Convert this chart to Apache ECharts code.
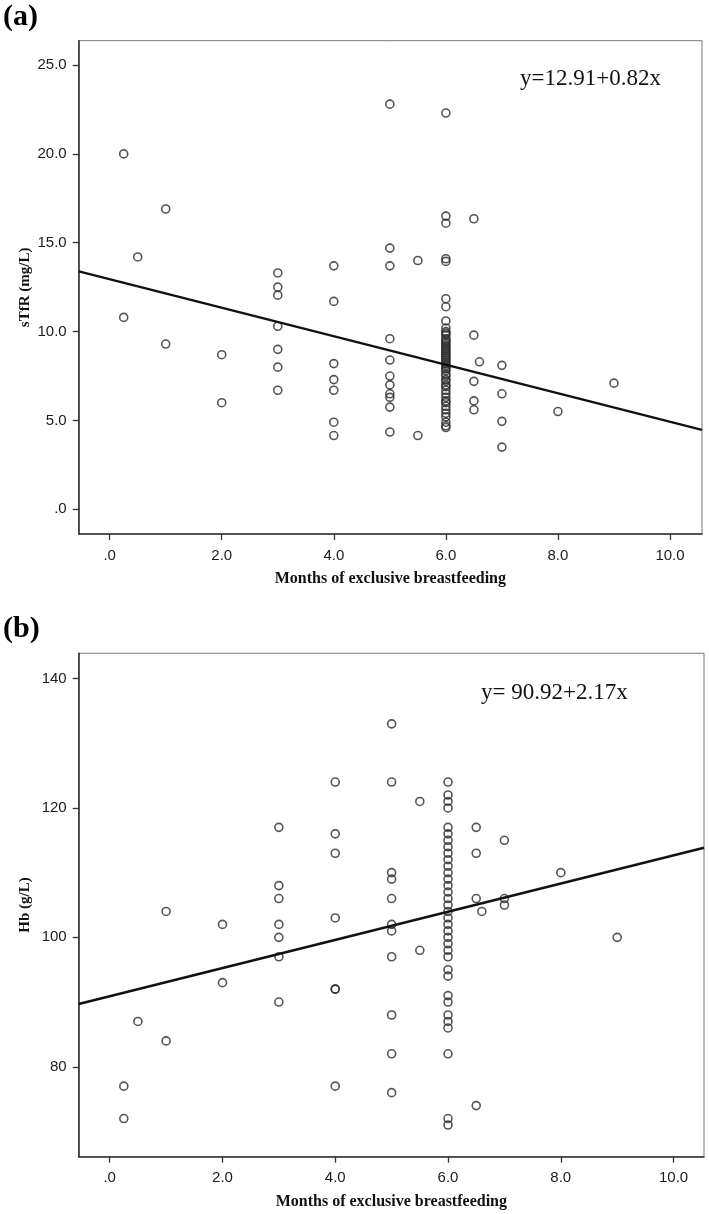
<!DOCTYPE html>
<html>
<head>
<meta charset="utf-8">
<script src="https://cdn.jsdelivr.net/npm/echarts@6/dist/echarts.min.js"></script>
<style>
html,body{margin:0;padding:0;background:#fff;}
#chart{width:709px;height:1214px;}
</style>
</head>
<body>
<div id="chart"></div>
<script>
// ---- Panel (a): sTfR vs months of exclusive breastfeeding ----
const monthsA = [
  0.25, 0.25,
  0.5,
  1, 1,
  2, 2,
  3, 3, 3, 3, 3, 3, 3,
  4, 4, 4, 4, 4, 4, 4,
  5, 5, 5, 5, 5, 5, 5, 5, 5, 5, 5,
  5.5, 5.5,
  6, 6, 6, 6, 6, 6, 6, 6,
  6, 6, 6, 6, 6, 6, 6, 6, 6, 6, 6, 6, 6, 6, 6, 6, 6, 6, 6, 6,
  6, 6, 6, 6, 6, 6, 6, 6, 6, 6, 6, 6, 6, 6, 6, 6, 6, 6, 6, 6, 6,
  6.5, 6.5, 6.5, 6.5, 6.5,
  6.6,
  7, 7, 7, 7,
  8,
  9
];
const stfrA = [
  20.0, 10.8,
  14.2,
  16.9, 9.3,
  8.7, 6.0,
  13.3, 12.5, 12.05, 10.3, 9.0, 8.0, 6.7,
  13.7, 11.7, 8.2, 7.3, 6.7, 4.9, 4.15,
  22.8, 14.7, 13.7, 9.6, 8.4, 7.5, 7.0, 6.5, 6.3, 5.75, 4.35,
  14.0, 4.15,
  22.3, 16.5, 16.1, 14.1, 13.95, 11.85, 11.4, 10.6,
  10.2, 10.0, 9.9, 9.8, 9.6, 9.5, 9.4, 9.3, 9.2, 9.1, 9.0, 8.9, 8.8, 8.7, 8.6, 8.5, 8.4, 8.3, 8.2, 8.1,
  8.0, 7.9, 7.8, 7.6, 7.5, 7.3, 7.2, 7.0, 6.9, 6.7, 6.5, 6.3, 6.1, 6.0, 5.8, 5.6, 5.4, 5.2, 4.9, 4.7, 4.6,
  16.35, 9.8, 7.2, 6.1, 5.6,
  8.3,
  8.1, 6.5, 4.95, 3.5,
  5.5,
  7.1
];
// fit line endpoints as drawn (x at plot edges)
const fitA_x = [-0.55, 10.57];
const fitA_y = [13.39, 4.47];

// ---- Panel (b): Hb vs months of exclusive breastfeeding ----
const monthsB = [
  0.25, 0.25,
  0.5,
  1, 1,
  2, 2,
  3, 3, 3, 3, 3, 3, 3,
  4, 4, 4, 4, 4, 4, 4,
  5, 5, 5, 5, 5, 5, 5, 5, 5, 5, 5,
  5.5, 5.5,
  6, 6, 6, 6, 6, 6, 6, 6, 6, 6, 6, 6, 6, 6, 6, 6, 6, 6,
  6, 6, 6, 6, 6, 6, 6, 6, 6, 6, 6, 6, 6, 6, 6, 6, 6,
  6.5, 6.5, 6.5, 6.5,
  6.6,
  7, 7, 7,
  8,
  9
];
const hbB = [
  77, 72,
  87,
  104, 84,
  102, 93,
  117, 108, 106, 102, 100, 97, 90,
  124, 116, 113, 103, 92, 92, 77,
  133, 124, 110, 109, 106, 102, 101, 97, 88, 82, 76,
  121, 98,
  124, 122, 121, 120, 117, 116, 115, 114, 113, 112, 111, 110, 109, 108, 107, 106, 105, 104,
  103, 102, 101, 100, 99, 98, 97, 95, 94, 91, 90, 88, 87, 86, 82, 72, 71,
  117, 113, 106, 74,
  104,
  115, 106, 105,
  110,
  100
];
const fitB_x = [-0.55, 10.54];
const fitB_y = [89.7, 113.85];

const xTicks = [0, 2, 4, 6, 8, 10];
const yTicksA = [0, 5, 10, 15, 20, 25];
const yTicksB = [80, 100, 120, 140];

const xTitle = 'Months of exclusive breastfeeding';
const yTitleA = 'sTfR (mg/L)';
const yTitleB = 'Hb (g/L)';
const eqA = 'y=12.91+0.82x';
const eqB = 'y= 90.92+2.17x';

function pairs(xs, ys){ return xs.map((x,i)=>[x, ys[i]]); }
function fmtDec(v){ return v === 0 ? '.0' : v.toFixed(1); }

const sans = 'Liberation Sans, Arial, sans-serif';
const serif = 'Liberation Serif, Times New Roman, serif';

function xAxisCfg(gridIndex, min, max){
  return {
    type:'value', gridIndex, min, max,
    splitLine:{show:false},
    axisLine:{show:true, onZero:false, lineStyle:{color:'#333', width:1.6}},
    axisTick:{show:true, length:6, inside:false, customValues:xTicks, lineStyle:{color:'#333', width:1.3}},
    axisLabel:{customValues:xTicks, formatter:fmtDec, margin:14, fontFamily:sans, fontSize:15, color:'#1a1a1a'},
    name:xTitle, nameLocation:'middle', nameGap:37, nameMoveOverlap:false,
    nameTextStyle:{fontFamily:serif, fontWeight:'bold', fontSize:16, color:'#111'}
  };
}
function yAxisCfg(gridIndex, min, max, ticks, fmt, title){
  return {
    type:'value', gridIndex, min, max,
    splitLine:{show:false},
    axisLine:{show:true, onZero:false, lineStyle:{color:'#333', width:1.6}},
    axisTick:{show:true, length:6, inside:false, customValues:ticks, lineStyle:{color:'#333', width:1.3}},
    axisLabel:{customValues:ticks, formatter:fmt, margin:12, fontFamily:sans, fontSize:15, color:'#1a1a1a'},
    name:title, nameLocation:'middle', nameGap:46, nameRotate:90, nameMoveOverlap:false,
    nameTextStyle:{fontFamily:serif, fontWeight:'bold', fontSize:15, color:'#111'}
  };
}

const markerStyle = {color:'rgba(0,0,0,0)', borderColor:'#2a2a2a', borderWidth:1.6};

const chart = echarts.init(document.getElementById('chart'), null, {renderer:'canvas'});
chart.setOption({
  animation:false,
  backgroundColor:'#fff',
  grid:[
    {left:78.7, top:40.7, width:623.3, height:493.3, show:true, borderColor:'#777', borderWidth:1, backgroundColor:'transparent'},
    {left:78.7, top:653.3, width:625.3, height:503.4, show:true, borderColor:'#777', borderWidth:1, backgroundColor:'transparent'}
  ],
  xAxis:[ xAxisCfg(0, -0.553, 10.571), xAxisCfg(1, -0.55, 10.54) ],
  yAxis:[
    yAxisCfg(0, -1.39, 26.37, yTicksA, fmtDec, yTitleA),
    yAxisCfg(1, 66.1, 143.9, yTicksB, v=>String(v), yTitleB)
  ],
  series:[
    {type:'scatter', xAxisIndex:0, yAxisIndex:0, data:pairs(monthsA, stfrA), symbol:'circle', symbolSize:8, itemStyle:markerStyle, z:3},
    {type:'line', xAxisIndex:0, yAxisIndex:0, data:pairs(fitA_x, fitA_y), showSymbol:false, symbol:'none', lineStyle:{color:'#111', width:2.4}, z:4, clip:true},
    {type:'scatter', xAxisIndex:1, yAxisIndex:1, data:pairs(monthsB, hbB), symbol:'circle', symbolSize:8, itemStyle:markerStyle, z:3},
    {type:'line', xAxisIndex:1, yAxisIndex:1, data:pairs(fitB_x, fitB_y), showSymbol:false, symbol:'none', lineStyle:{color:'#111', width:2.4}, z:4, clip:true}
  ],
  graphic:[
    {type:'text', left:3, top:2, style:{text:'(a)', font:'bold 30px ' + serif, fill:'#000'}},
    {type:'text', left:3, top:614, style:{text:'(b)', font:'bold 30px ' + serif, fill:'#000'}},
    {type:'text', left:520, top:67, style:{text:eqA, font:'23px ' + serif, fill:'#111'}},
    {type:'text', left:481, top:681, style:{text:eqB, font:'23px ' + serif, fill:'#111'}}
  ]
});
</script>
</body>
</html>
